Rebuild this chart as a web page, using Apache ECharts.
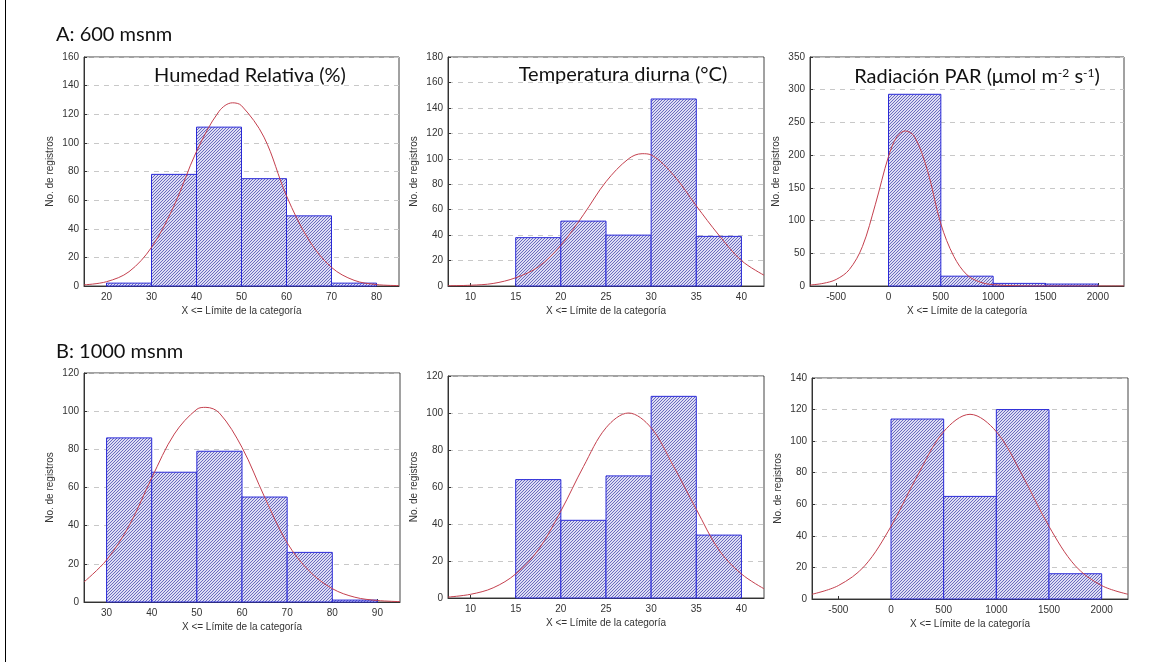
<!DOCTYPE html>
<html>
<head>
<meta charset="utf-8">
<script src="https://cdn.jsdelivr.net/npm/echarts@6/dist/echarts.min.js"></script>
<style>
  html, body { margin: 0; padding: 0; background: #ffffff; }
  #chart { width: 1169px; height: 662px; }
</style>
</head>
<body>
<div id="chart"></div>
<script>
// ---------- DATA ----------
// A: 600 msnm
const hr600Edges = [20, 30, 40, 50, 60, 70, 80];
const hr600Counts = [2, 78, 111, 75, 49, 2];
const hr600CurveX = [15, 20, 25, 30, 35, 40, 45, 48, 50, 55, 60, 65, 70, 75, 80, 85];
const hr600CurveY = [0.8, 3, 10, 27, 56, 94, 122, 128, 126, 104, 63, 32, 13, 4, 1, 0.3];
const hr600XTicks = [20, 30, 40, 50, 60, 70, 80];

const tp600Edges = [15, 20, 25, 30, 35, 40];
const tp600Counts = [38, 51, 40, 147, 39];
const tp600CurveX = [7.5, 10, 12.5, 15, 17.5, 20, 22.5, 25, 27.5, 29, 30, 32.5, 35, 37.5, 40, 42.5];
const tp600CurveY = [0.2, 0.6, 2, 6.5, 15, 32, 56, 82, 100, 104, 103, 87, 63, 40, 20, 8.5];
const tp600XTicks = [10, 15, 20, 25, 30, 35, 40];

const par600Edges = [0, 500, 1000, 1500, 2000];
const par600Counts = [293, 15, 4, 3];
const par600CurveX = [-750, -625, -500, -375, -250, -125, 0, 80, 160, 250, 375, 500, 625, 750, 875, 1000, 1250, 1500, 2250];
const par600CurveY = [1.5, 4, 10, 25, 60, 125, 198, 228, 237, 228, 175, 95, 45, 17, 6, 2, 0.3, 0, 0];
const par600XTicks = [-500, 0, 500, 1000, 1500, 2000];

// B: 1000 msnm
const hr1000Edges = [30, 40, 50, 60, 70, 80, 90];
const hr1000Counts = [86, 68, 79, 55, 26, 1];
const hr1000CurveX = [25, 30, 35, 40, 45, 50, 52, 55, 60, 65, 70, 75, 80, 85, 90, 95];
const hr1000CurveY = [10.5, 22, 40, 65, 88, 101, 102, 99, 81, 55, 31, 16, 7, 2.5, 0.8, 0.2];
const hr1000XTicks = [30, 40, 50, 60, 70, 80, 90];

const tp1000Edges = [15, 20, 25, 30, 35, 40];
const tp1000Counts = [64, 42, 66, 109, 34];
const tp1000CurveX = [7.5, 10, 12.5, 15, 17.5, 20, 22.5, 25, 27.5, 30, 32.5, 35, 37.5, 40, 42.5];
const tp1000CurveY = [0.5, 2, 5.5, 13, 26, 47, 71, 92, 100, 92, 71, 48, 26, 13, 5];
const tp1000XTicks = [10, 15, 20, 25, 30, 35, 40];

const par1000Edges = [0, 500, 1000, 1500, 2000];
const par1000Counts = [114, 65, 120, 16];
const par1000CurveX = [-750, -500, -250, 0, 250, 500, 750, 1000, 1250, 1500, 1750, 2000, 2250];
const par1000CurveY = [3, 8.5, 21, 46, 78, 106, 117, 106, 78, 46, 21, 8.5, 3];
const par1000XTicks = [-500, 0, 500, 1000, 1500, 2000];

const rowLabels = ['A: 600 msnm', 'B: 1000 msnm'];
const panelTitles = ['Humedad Relativa (%)', 'Temperatura diurna (°C)', 'Radiación PAR (μmol m{sup|-2} s{sup|-1})'];
const yName = 'No. de registros';
const xName = 'X <= Límite de la categoría';

// ---------- STYLE ----------
function makeHatch() {
  const c = document.createElement('canvas');
  c.width = 3; c.height = 3;
  const g = c.getContext('2d');
  g.fillStyle = '#dcdcf4';
  g.fillRect(0, 0, 3, 3);
  g.fillStyle = '#6a6abe';
  g.fillRect(0, 2, 1, 1);
  g.fillRect(1, 1, 1, 1);
  g.fillRect(2, 0, 1, 1);
  return c;
}
const hatch = { image: makeHatch(), repeat: 'repeat' };

const panels = [
  { grid: { left: 84, top: 57, width: 315, height: 229 }, xmin: 15, xmax: 85, ymax: 160, yint: 20,
    edges: hr600Edges, counts: hr600Counts, cx: hr600CurveX, cy: hr600CurveY, ticks: hr600XTicks },
  { grid: { left: 448, top: 57, width: 316, height: 229 }, xmin: 7.5, xmax: 42.5, ymax: 180, yint: 20,
    edges: tp600Edges, counts: tp600Counts, cx: tp600CurveX, cy: tp600CurveY, ticks: tp600XTicks },
  { grid: { left: 810, top: 57, width: 314, height: 229 }, xmin: -750, xmax: 2250, ymax: 350, yint: 50,
    edges: par600Edges, counts: par600Counts, cx: par600CurveX, cy: par600CurveY, ticks: par600XTicks },
  { grid: { left: 84, top: 373, width: 316, height: 229 }, xmin: 25, xmax: 95, ymax: 120, yint: 20,
    edges: hr1000Edges, counts: hr1000Counts, cx: hr1000CurveX, cy: hr1000CurveY, ticks: hr1000XTicks },
  { grid: { left: 448, top: 376, width: 316, height: 222 }, xmin: 7.5, xmax: 42.5, ymax: 120, yint: 20,
    edges: tp1000Edges, counts: tp1000Counts, cx: tp1000CurveX, cy: tp1000CurveY, ticks: tp1000XTicks },
  { grid: { left: 812, top: 378, width: 316, height: 221 }, xmin: -750, xmax: 2250, ymax: 140, yint: 20,
    edges: par1000Edges, counts: par1000Counts, cx: par1000CurveX, cy: par1000CurveY, ticks: par1000XTicks }
];

const labelFont = { color: '#333', fontSize: 10, fontFamily: 'Liberation Sans' };
const plain = v => String(v);

const grids = [], xAxes = [], yAxes = [], series = [];
panels.forEach((p, i) => {
  grids.push(Object.assign({ show: true, borderColor: '#444', borderWidth: 1, backgroundColor: 'transparent' }, p.grid));
  xAxes.push({
    type: 'value', gridIndex: i, min: p.xmin, max: p.xmax,
    name: xName, nameLocation: 'middle', nameGap: 20,
    nameTextStyle: labelFont,
    axisLine: { show: true, onZero: false, lineStyle: { color: '#333', width: 1 } },
    axisTick: { show: true, inside: true, length: 3, customValues: p.ticks, lineStyle: { color: '#333' } },
    axisLabel: Object.assign({ customValues: p.ticks, margin: 6, formatter: plain }, labelFont),
    splitLine: { show: false }
  });
  yAxes.push({
    type: 'value', gridIndex: i, min: 0, max: p.ymax, interval: p.yint,
    name: yName, nameLocation: 'middle', nameGap: 29,
    nameTextStyle: labelFont,
    axisLine: { show: true, onZero: false, lineStyle: { color: '#333', width: 1 } },
    axisTick: { show: true, inside: true, length: 3, lineStyle: { color: '#333' } },
    axisLabel: Object.assign({ margin: 5, formatter: plain }, labelFont),
    splitLine: { show: true, lineStyle: { color: '#c8c8c8', type: [5, 5], width: 1 } }
  });
  series.push({
    type: 'custom', xAxisIndex: i, yAxisIndex: i, z: 2,
    data: p.counts.map((c, k) => [p.edges[k], p.edges[k + 1], c]),
    encode: { x: [0, 1], y: 2 },
    renderItem: function (params, api) {
      const a = api.coord([api.value(0), api.value(2)]);
      const b = api.coord([api.value(1), 0]);
      return {
        type: 'rect',
        shape: { x: a[0], y: a[1], width: b[0] - a[0], height: b[1] - a[1] },
        style: { fill: hatch, stroke: '#2a2ad8', lineWidth: 1 }
      };
    }
  });
  series.push({
    type: 'line', xAxisIndex: i, yAxisIndex: i, z: 3,
    data: p.cx.map((x, k) => [x, p.cy[k]]),
    smooth: 0.35, symbol: 'none', clip: true,
    lineStyle: { color: '#c4404e', width: 1 }
  });
});

const titleFont = { fontFamily: 'Lato', fontSize: 20, fontWeight: 'normal', color: '#111' };
const titles = [
  { text: rowLabels[0], left: 51, top: 20, textStyle: titleFont },
  { text: rowLabels[1], left: 51, top: 337, textStyle: titleFont },
  { text: panelTitles[0], left: 245, top: 61, textAlign: 'center', textStyle: titleFont },
  { text: panelTitles[1], left: 618, top: 60, textAlign: 'center', textStyle: titleFont },
  { text: panelTitles[2], left: 972, top: 62, textAlign: 'center',
    textStyle: Object.assign({}, titleFont, {
      rich: { sup: { fontFamily: 'Lato', fontSize: 12, color: '#111', verticalAlign: 'top', lineHeight: 12 } }
    }) }
];

const chart = echarts.init(document.getElementById('chart'), null, { renderer: 'canvas' });
chart.setOption({
  animation: false,
  backgroundColor: '#ffffff',
  title: titles,
  grid: grids,
  xAxis: xAxes,
  yAxis: yAxes,
  series: series,
  graphic: [
    { type: 'line', shape: { x1: 5.5, y1: 0, x2: 5.5, y2: 662 }, style: { stroke: '#000', lineWidth: 1 } }
  ]
});
</script>
</body>
</html>
